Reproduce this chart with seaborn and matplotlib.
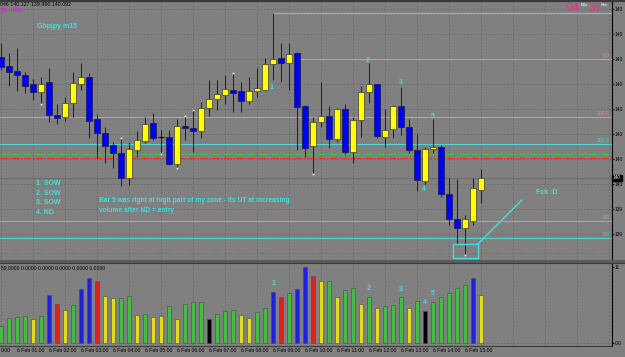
import matplotlib
matplotlib.use("Agg")
import matplotlib.pyplot as plt
import matplotlib.transforms as mtrans
from matplotlib.patches import Rectangle
from matplotlib.lines import Line2D
import numpy as np
import pandas as pd
import seaborn as sns

# ---------------- data ----------------
opens = [140.576, 140.540, 140.520, 140.504, 140.468, 140.436, 140.476, 140.344, 140.336, 140.392,
         140.468, 140.496, 140.328, 140.272, 140.224, 140.192, 140.092, 140.204, 140.240, 140.312,
         140.256, 140.256, 140.148, 140.300, 140.292, 140.280, 140.372, 140.408, 140.424, 140.444,
         140.440, 140.400, 140.440, 140.444, 140.548, 140.572, 140.552, 140.592, 140.380, 140.220,
         140.316, 140.340, 140.248, 140.368, 140.196, 140.324, 140.436, 140.468, 140.256, 140.288,
         140.380, 140.296, 140.204, 140.080, 140.208, 140.216, 140.028, 139.928, 139.892, 139.920,
         140.046]
highs = [140.632, 140.592, 140.612, 140.516, 140.488, 140.496, 140.532, 140.388, 140.416, 140.516,
         140.552, 140.512, 140.348, 140.296, 140.236, 140.252, 140.236, 140.280, 140.336, 140.352,
         140.284, 140.284, 140.328, 140.340, 140.364, 140.396, 140.484, 140.484, 140.504, 140.512,
         140.476, 140.496, 140.532, 140.572, 140.752, 140.632, 140.632, 140.596, 140.384, 140.336,
         140.476, 140.380, 140.372, 140.388, 140.336, 140.460, 140.552, 140.468, 140.368, 140.384,
         140.456, 140.328, 140.268, 140.216, 140.328, 140.224, 140.092, 140.088, 139.944, 140.092,
         140.127]
lows = [140.524, 140.460, 140.440, 140.432, 140.404, 140.388, 140.316, 140.308, 140.320, 140.336,
        140.444, 140.252, 140.172, 140.152, 140.132, 140.060, 140.064, 140.176, 140.232, 140.244,
        140.188, 140.144, 140.132, 140.244, 140.196, 140.252, 140.340, 140.364, 140.388, 140.356,
        140.356, 140.388, 140.416, 140.440, 140.484, 140.476, 140.444, 140.204, 140.176, 140.108,
        140.296, 140.212, 140.236, 140.184, 140.152, 140.256, 140.392, 140.252, 140.216, 140.252,
        140.264, 140.192, 140.040, 140.068, 140.192, 140.016, 139.904, 139.828, 139.784, 139.904,
        139.990]
closes = [140.536, 140.516, 140.504, 140.460, 140.436, 140.468, 140.344, 140.332, 140.392, 140.472,
          140.496, 140.320, 140.272, 140.220, 140.192, 140.092, 140.208, 140.244, 140.308, 140.252,
          140.256, 140.148, 140.300, 140.292, 140.280, 140.372, 140.408, 140.428, 140.448, 140.432,
          140.400, 140.440, 140.452, 140.548, 140.568, 140.552, 140.588, 140.376, 140.212, 140.316,
          140.340, 140.248, 140.368, 140.196, 140.324, 140.436, 140.468, 140.260, 140.284, 140.380,
          140.296, 140.204, 140.084, 140.208, 140.216, 140.028, 139.928, 139.892, 139.928, 140.052,
          140.092]
volumes = [255, 375, 390, 405, 360, 405, 720, 585, 495, 570,
           810, 975, 930, 705, 675, 675, 705, 420, 435, 390,
           405, 555, 360, 585, 615, 615, 360, 435, 480, 495,
           420, 375, 465, 525, 765, 690, 750, 810, 1140, 1005,
           930, 930, 690, 795, 825, 585, 690, 525, 555, 570,
           690, 525, 630, 480, 615, 690, 750, 825, 870, 975,
           720]
vol_class = ["G", "G", "G", "G", "Y", "G", "B", "R", "Y", "G",
             "B", "B", "R", "Y", "Y", "G", "G", "Y", "G", "Y",
             "Y", "G", "Y", "G", "G", "G", "K", "G", "G", "G",
             "Y", "Y", "G", "G", "B", "R", "G", "B", "B", "R",
             "Y", "G", "Y", "G", "G", "Y", "G", "Y", "G", "G",
             "G", "Y", "G", "K", "G", "G", "G", "G", "G", "B",
             "Y"]
hour_labels = ["0:00", "6 Feb 01:00", "6 Feb 02:00", "6 Feb 03:00", "6 Feb 04:00",
               "6 Feb 05:00", "6 Feb 06:00", "6 Feb 07:00", "6 Feb 08:00", "6 Feb 09:00",
               "6 Feb 10:00", "6 Feb 11:00", "6 Feb 12:00", "6 Feb 13:00", "6 Feb 14:00",
               "6 Feb 15:00"]
price_ticks = [140.768, 140.668, 140.568, 140.468, 140.368, 140.268, 140.168, 140.068, 139.968, 139.868]
price_tick_labels = ["140", "140", "140", "140", "140", "140", "140", "140", "139", "139"]
bid_price = 140.092
vol_ticks = [1140, 0]
vol_tick_labels = ["11", "0.0"]
# horizontal levels: (price, colour, style, label, start index)
levels = [
    (140.752, "#4fd6d6", "-", "", 34),
    (140.568, "#e09090", "-", "0.0", 37),
    (140.336, "#e09090", "-", "100.0", -1),
    (140.228, "#4fd6d6", "-", "100.0", -1),
    (140.188, "#3cc83c", "dashdot", "", -1),
    (140.172, "#ff2828", "dashdot", "", -1),
    (139.920, "#e09090", "-", "0.0", -1),
    (139.852, "#4fd6d6", "-", "0.0", -1),
    (139.792, "#c05a5a", "dashdot", "", -1),
]
swing_labels = [("1", 33.8, 140.452), ("2", 45.9, 140.560), ("3", 50.0, 140.472),
                ("5", 54.0, 140.336), ("4", 52.9, 140.044)]
vol_labels = [("1", 34, 805), ("2", 46, 730), ("3", 50, 715), ("5", 54, 655), ("4", 53, 520)]

# ---------------- layout helpers ----------------
W, H = 625, 357
BG = "#808080"
GRID = "#6a6a6a"
CY = "#40e0e0"

sns.set_theme(style="dark", rc={"axes.facecolor": BG, "figure.facecolor": BG})
plt.rcParams["font.family"] = ["Liberation Sans", "DejaVu Sans"]

fig = plt.figure(figsize=(W / 100, H / 100), dpi=100)
fig.patch.set_facecolor(BG)

def fy(py):
    return 1 - py / H

def fx(px):
    return px / W

PLOT_R = 612
ax = fig.add_axes([0, fy(260), fx(PLOT_R), fy(2) - fy(260)])
axv = fig.add_axes([0, fy(346), fx(PLOT_R), fy(264) - fy(346)])

def price_of(py):
    return 140.804 - 0.004 * py

n = len(opens)
idx = np.arange(n)
xlim = (-1 / 8, (PLOT_R - 1) / 8)

for a in (ax, axv):
    a.set_facecolor(BG)
    a.set_xlim(*xlim)
    for s in ("top", "left", "bottom"):
        a.spines[s].set_visible(False)
    a.spines["right"].set_color("black")
    a.spines["right"].set_linewidth(0.8)
    a.grid(False)
    for gx in range(0, 77, 4):
        a.axvline(gx, color=GRID, lw=0.6, ls=(0, (2, 2)), zorder=0)

ax.set_ylim(price_of(260), price_of(2))

# grid rows
for p in price_ticks:
    ax.axhline(p, color=GRID, lw=0.6, ls=(0, (2, 2)), zorder=0)

# level lines
for p, c, st, lab, start in levels:
    if start < 0:
        ax.axhline(p, color=c, lw=0.8, ls=st, zorder=1)
    else:
        ax.plot([start, xlim[1]], [p, p], color=c, lw=0.8, ls=st, zorder=1)
    if lab:
        ax.text(xlim[1] - 0.3, p + 0.004, lab, color=c, fontsize=3.6, ha="right", va="bottom")

# bid line
ax.axhline(bid_price, color="#6e6e6e", lw=0.9, zorder=1)

# candles
o = np.array(opens); c = np.array(closes); h = np.array(highs); l = np.array(lows)
ax.vlines(idx, l, h, color="#1e1e1e", lw=0.7, zorder=2)
up = c > o
dn = c < o
dj = c == o
ax.bar(idx[up], (c - o)[up], bottom=o[up], width=0.7, color="#ffff00",
       edgecolor="#3c3c3c", linewidth=0.5, zorder=3)
ax.bar(idx[dn], (o - c)[dn], bottom=c[dn], width=0.7, color="#0000ff",
       edgecolor="#1a1a40", linewidth=0.5, zorder=3)
ax.hlines(o[dj], idx[dj] - 0.35, idx[dj] + 0.35, color="black", lw=0.8, zorder=3)

# fractal dots
for i, which in [(5, "l"), (15, "h"), (20, "l"), (22, "l"), (23, "h"), (24, "h"), (29, "h"),
                 (39, "l"), (58, "l")]:
    yv = (l if which == "l" else h)[i]
    ax.plot(i, yv, marker="s", ms=1.2, color="white", mew=0, zorder=4)
for i, yv in [(11, price_of(106)), (37, price_of(101)), (55, price_of(171))]:
    ax.plot(i, yv, marker="s", ms=1.0, color="black", mew=0, zorder=4)

# right price axis
ax.yaxis.tick_right()
ax.set_yticks(price_ticks)
ax.set_yticklabels(price_tick_labels)
ax.tick_params(axis="y", right=True, length=1.5, width=0.6, color="black",
               labelsize=3.5, pad=0.6, labelcolor="black")
ax.set_xticks([])
ax.text(1.0015, bid_price, "140", transform=mtrans.blended_transform_factory(ax.transAxes, ax.transData),
        fontsize=3.4, color="white", va="center", ha="left",
        bbox=dict(boxstyle="square,pad=0.2", fc="black", ec="black"), clip_on=False)

# annotations in main panel
for t, xi, pv in swing_labels:
    ax.text(xi, pv, t, color=CY, fontsize=5, ha="center", va="center", fontweight="bold")
ax.add_patch(Rectangle(((453 - 1) / 8, price_of(258)), (478 - 453) / 8, price_of(244) - price_of(258),
                       fill=False, ec=CY, lw=1.0, zorder=5))
ax.plot([(478 - 1) / 8, (522 - 1) / 8], [price_of(244), price_of(200)], color=CY, lw=1.0, zorder=5)

fig.text(fx(37), fy(27), "Gbpjpy m15", color=CY, fontsize=5, va="center", fontweight="bold")
for k, t in enumerate(["1. SOW", "2. SOW", "3. SOW", "4. ND"]):
    fig.text(fx(36), fy(184 + 9.5 * k), t, color=CY, fontsize=5, va="center", fontweight="bold")
fig.text(fx(99), fy(201), "Bar 5 was right at high part of my zone - Its UT at increasing",
         color=CY, fontsize=4.8, va="center", fontweight="bold")
fig.text(fx(99), fy(210.5), "volume after ND = entry", color=CY, fontsize=4.8, va="center", fontweight="bold")
fig.text(fx(536), fy(193), "Fck :D", color=CY, fontsize=5, va="center", fontweight="bold")

# header
fig.add_artist(Line2D([0, 1], [fy(0.8), fy(0.8)], color="#3a3a3a", lw=1.6))
fig.text(fx(0.5), fy(4.5), "046 140.127 139.990 140.092", color="black", fontsize=3.8, va="center")
fig.text(fx(0.5), fy(10.5), "points", color="#e020e0", fontsize=5, va="center", fontweight="bold")
fig.text(fx(567), fy(8), "04", color="#f0288c", fontsize=8, va="center")
fig.text(fx(581), fy(4.5), "Min", color="white", fontsize=3.2, va="center")
fig.text(fx(589), fy(8), "39", color="#f0288c", fontsize=8, va="center")
fig.text(fx(601), fy(4.5), "Sec", color="white", fontsize=3.2, va="center")

# separator between panels
fig.add_artist(Rectangle((0, fy(263.8)), 1, fy(260.4) - fy(263.8), color="#5c5c5c", lw=0))
fig.add_artist(Line2D([0, 1], [fy(262.5), fy(262.5)], color="#3a3a3a", lw=0.8))

# ---------------- volume panel (seaborn) ----------------
vol_df = pd.DataFrame({"idx": idx, "volume": volumes, "cls": vol_class})
pal = {"G": "#32cd32", "Y": "#ffff00", "B": "#0000ff", "R": "#ff0000", "K": "#000000"}
sns.barplot(data=vol_df, x="idx", y="volume", hue="cls", palette=pal, native_scale=True,
            dodge=False, width=0.5, errorbar=None, legend=False, ax=axv,
            edgecolor="#4a4a4a", linewidth=0.4, zorder=3)
axv.set_xlim(*xlim)
axv.set_ylim(-45, 1185)
axv.set_xlabel(""); axv.set_ylabel("")
axv.set_xticks([])
axv.axhline(0, color=GRID, lw=0.6, ls=(0, (2, 2)), zorder=0)
axv.yaxis.tick_right()
axv.set_yticks(vol_ticks)
axv.set_yticklabels(vol_tick_labels)
axv.tick_params(axis="y", right=True, length=1.5, width=0.6, color="black",
                labelsize=3.5, pad=0.6, labelcolor="black")
axv.text(0.0, 1120, "59.0000 0.0000 0.0000 0.0000 0.0000 0.0000", fontsize=3.6, color="black",
         va="center", ha="left")
for t, xi, vv in vol_labels:
    axv.text(xi, vv + 90, t, color=CY, fontsize=5, ha="center", va="center", fontweight="bold")

# bottom axis line and time labels
fig.add_artist(Line2D([0, fx(PLOT_R)], [fy(346), fy(346)], color="#3a3a3a", lw=0.8))
tb = mtrans.blended_transform_factory(axv.transData, fig.transFigure)
for hh, lab in enumerate(hour_labels):
    xpos = 4 * hh - 2 if hh > 0 else 0.0
    axv.text(xpos, fy(351), lab, transform=tb, fontsize=3.7, color="black",
             ha="left", va="center", clip_on=False)

fig.savefig("out.png", dpi=100, facecolor=BG)
